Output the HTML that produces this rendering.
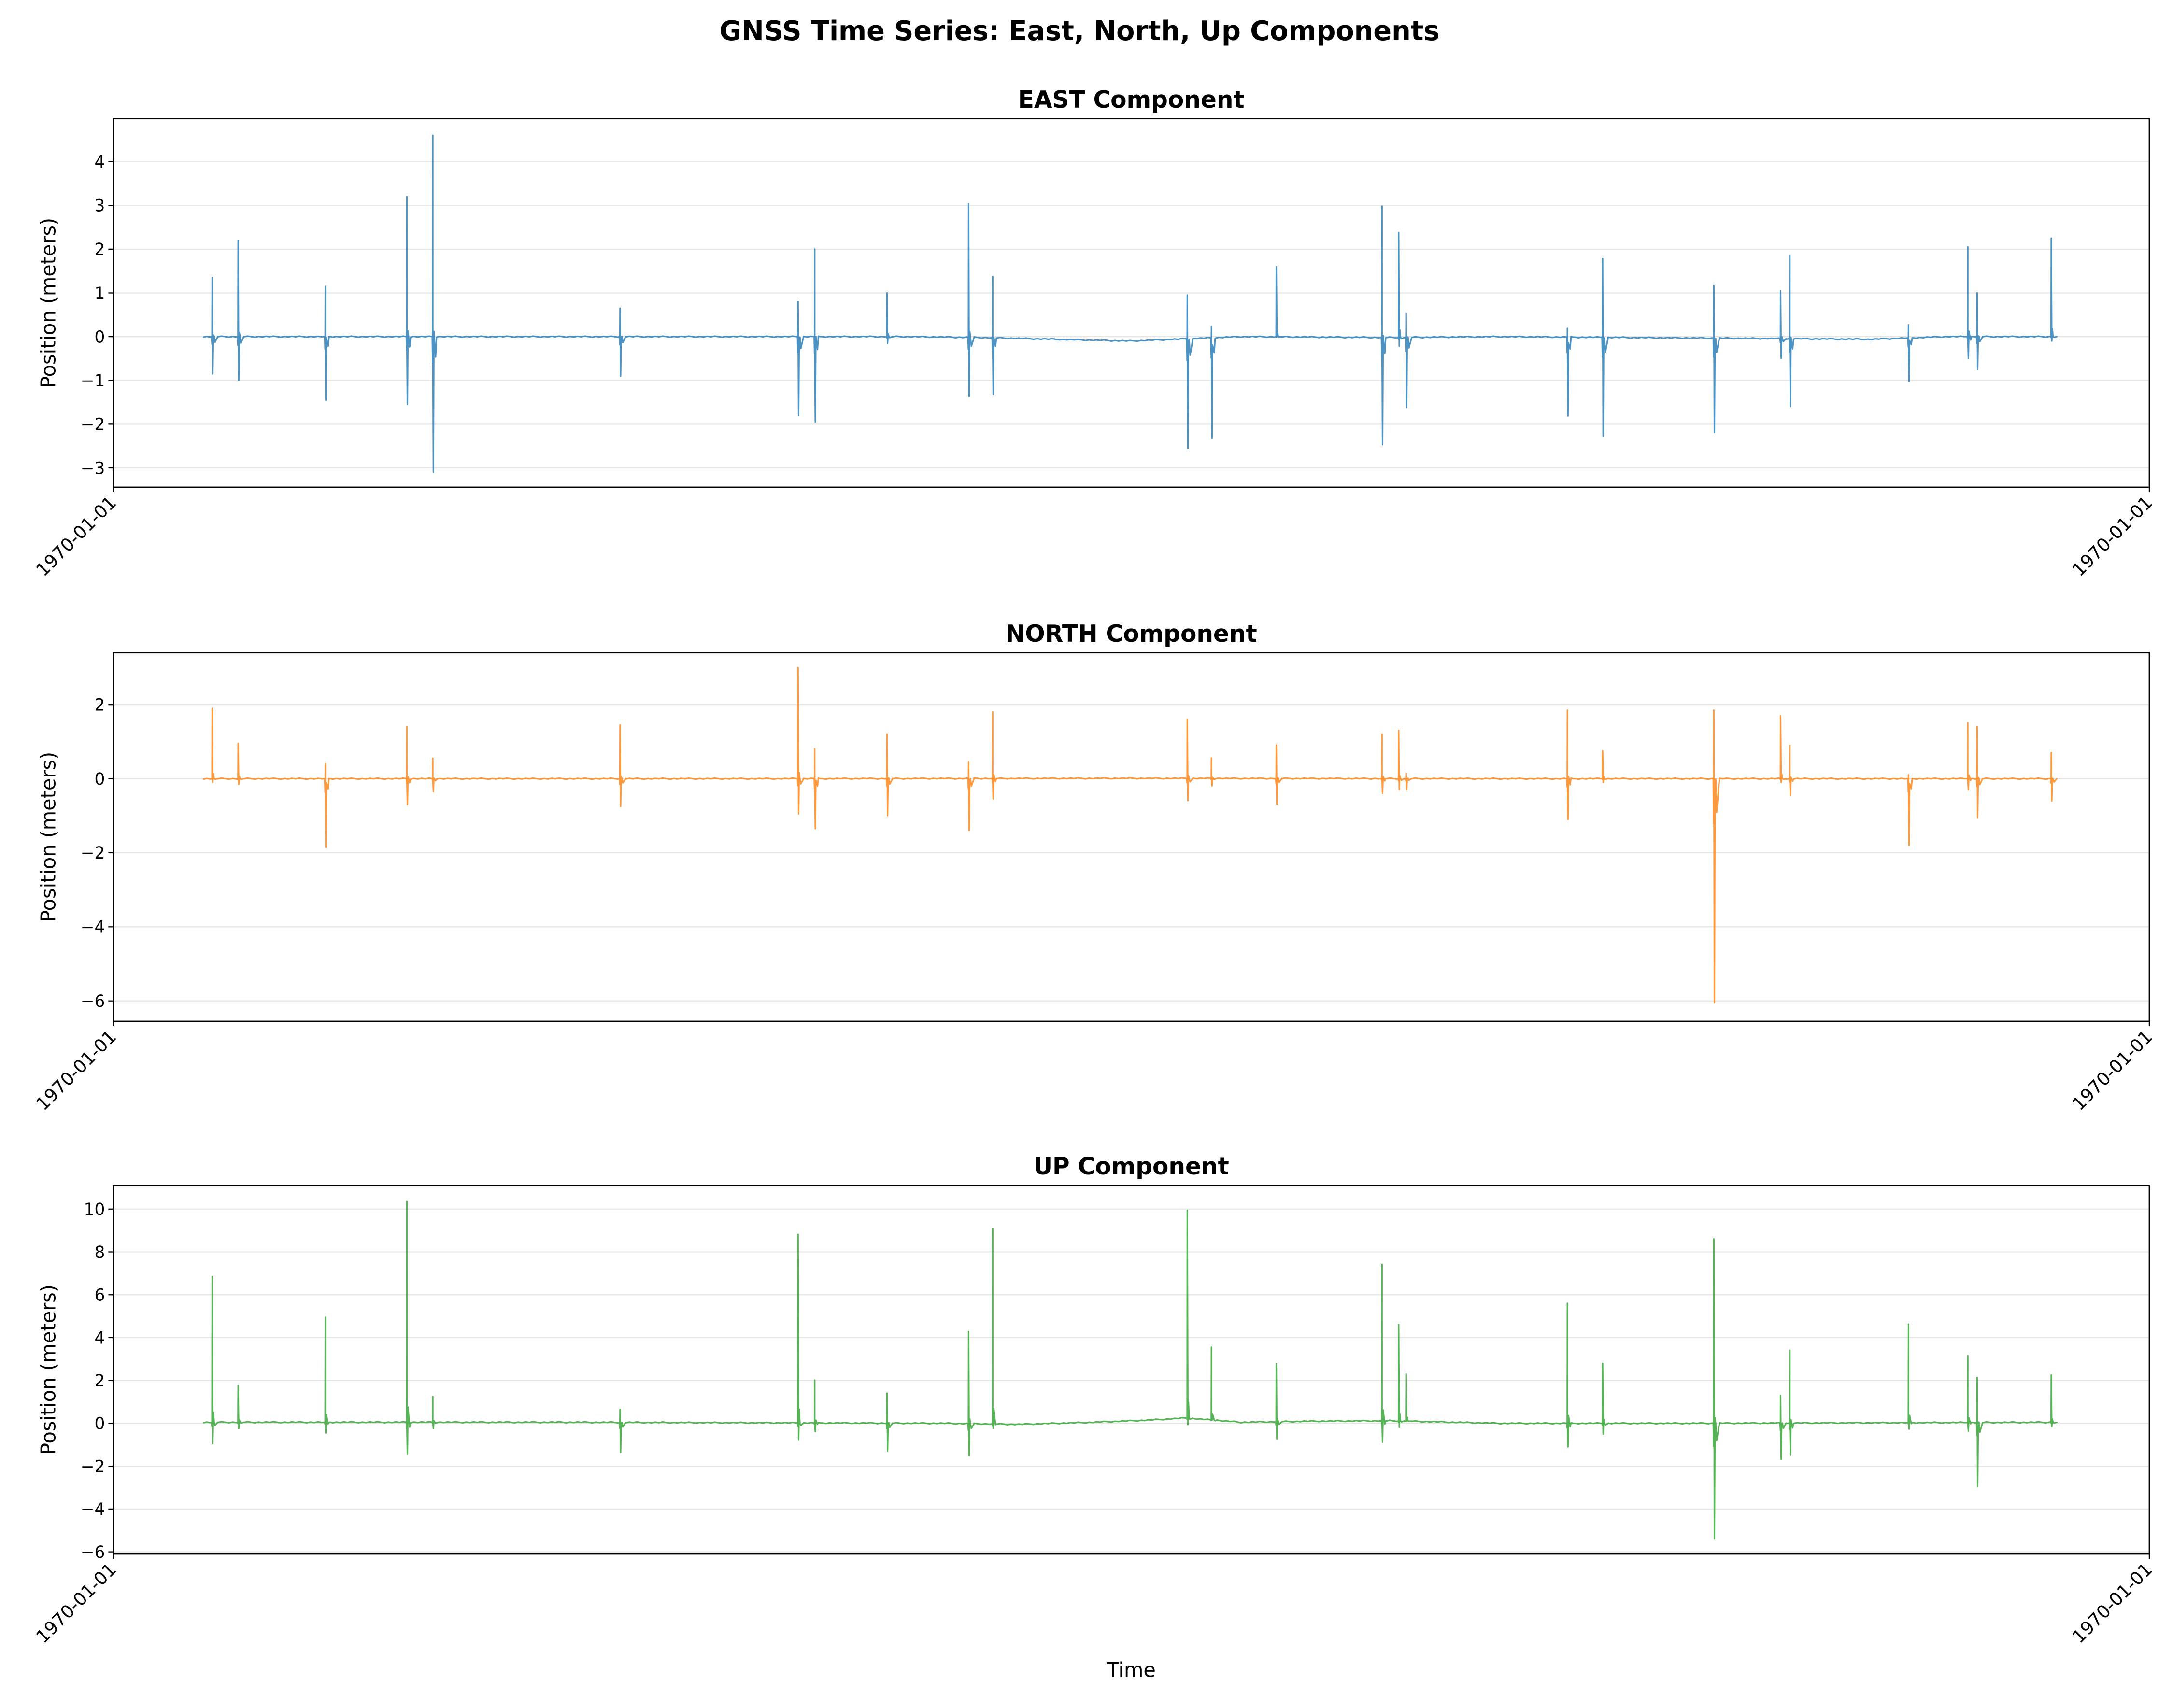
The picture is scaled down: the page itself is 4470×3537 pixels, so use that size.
<!DOCTYPE html>
<html><head><meta charset="utf-8"><style>
html,body{margin:0;padding:0;background:#fff;}
svg{display:block;font-family:"DejaVu Sans","Liberation Sans",sans-serif;}
</style></head><body>
<svg id="fig" width="4470" height="3537" viewBox="0 0 1564 1237.6" xmlns="http://www.w3.org/2000/svg">
<rect width="1564" height="1237.6" fill="#fff"/>
<text x="782" y="29" text-anchor="middle" font-size="19.5" font-weight="bold">GNSS Time Series: East, North, Up Components</text>
<text x="819.5" y="1215" text-anchor="middle" font-size="14.5">Time</text>
</svg>
<script>
// Spike event days (0..1000 day index across series span)
const spikeDays = [5,19,66,110,124,225,321,330,369,413,426,531,544,579,636,645,649,736,755,815,851,856,920,952,957,997];
const eastMax  = [1.35,2.2,1.15,3.2,4.6,0.65,0.8,2.0,1.0,3.05,1.4,1.0,0.25,1.6,3.0,2.4,0.55,0.2,1.8,1.2,1.1,1.9,0.3,2.05,1.0,2.25];
const eastMin  = [-0.85,-1.0,-1.45,-1.55,-3.1,-0.9,-1.8,-1.95,-0.15,-1.35,-1.3,-2.5,-2.3,0,-2.45,-0.2,-1.6,-1.8,-2.25,-2.15,-0.45,-1.55,-1.0,-0.5,-0.75,-0.1];
const northMax = [1.9,0.95,0.4,1.4,0.55,1.45,3.0,0.8,1.2,0.45,1.8,1.6,0.55,0.9,1.2,1.3,0.15,1.85,0.75,1.85,1.7,0.9,0.1,1.5,1.4,0.7];
const northMin = [-0.1,-0.15,-1.85,-0.7,-0.35,-0.75,-0.95,-1.35,-1.0,-1.4,-0.55,-0.6,-0.2,-0.7,-0.4,-0.3,-0.3,-1.1,-0.1,-6.05,-0.1,-0.45,-1.8,-0.3,-1.05,-0.6];
const upMax    = [6.8,1.7,4.9,10.3,1.2,0.6,8.8,2.0,1.4,4.3,9.1,9.7,3.4,2.7,7.3,4.5,2.2,5.6,2.8,8.6,1.3,3.4,4.6,3.1,2.1,2.2];
const upMin    = [-1.0,-0.3,-0.5,-1.5,-0.3,-1.4,-0.8,-0.4,-1.3,-1.5,-0.2,-0.3,0,-0.8,-1.0,-0.3,0,-1.1,-0.5,-5.4,-1.7,-1.5,-0.3,-0.4,-3.0,-0.2];
// Baseline knots (day, value)
const eastBaseDays = [0,150,300,380,420,460,500,530,560,640,700,800,900,940,1000];
const eastBaseVals = [0,0,0,0,-0.02,-0.06,-0.1,-0.05,0,-0.02,0,-0.03,-0.06,0,0];
const northBaseDays = [0,300,500,700,1000];
const northBaseVals = [0,0,0.01,0,0];
const upBaseDays = [0,200,400,440,480,510,530,560,600,640,700,800,1000];
const upBaseVals = [0.05,0.05,0,-0.05,0.05,0.15,0.25,0.05,0.1,0.12,0,0,0.05];
// Tick labels
const eastTicks = [-3,-2,-1,0,1,2,3,4];
const northTicks = [-6,-4,-2,0,2];
const upTicks = [-6,-4,-2,0,2,4,6,8,10];

const NS="http://www.w3.org/2000/svg";
const svg=document.getElementById('fig');
function mk(tag,attrs,parent){const e=document.createElementNS(NS,tag);for(const k in attrs)e.setAttribute(k,attrs[k]);(parent||svg).appendChild(e);return e;}
const AX_L=82, AX_R=1557;
const xScale=d=>147+d*(1490-147)/1000;
function interp(days,vals,d){for(let i=0;i<days.length-1;i++){if(d>=days[i]&&d<=days[i+1]){const f=(d-days[i])/(days[i+1]-days[i]);return vals[i]+f*(vals[i+1]-vals[i]);}}return vals[vals.length-1];}

function panel(name,title,top,bottom,ymin,ymax,ticks,maxs,mins,bd,bv,color){
  const g=mk('g',{});
  
  
  const y=v=>bottom-(v-ymin)/(ymax-ymin)*(bottom-top);
  ticks.forEach(t=>{
    const gl=mk('line',{x1:AX_L,x2:AX_R,y1:y(t),y2:y(t),stroke:'#e6e6e6','stroke-width':0.8},g);
    
    
    const tk=mk('line',{x1:AX_L-3.5,x2:AX_L,y1:y(t),y2:y(t),stroke:'#000','stroke-width':0.8},g);
    
    
    const tl=mk('text',{x:AX_L-6,y:y(t)+4.3,'text-anchor':'end','font-size':12},g);
    
    
    tl.textContent=(t<0?'\u2212'+(-t):String(t));
  });
  let pts=[];
  let si=0;
  for(let d=0;d<=1000;d+=2){
    while(si<spikeDays.length&&spikeDays[si]<=d){
      const sd=spikeDays[si], b=interp(bd,bv,sd);
      pts.push([sd-0.3,b],[sd-0.1,mins[si]<0?b+mins[si]*0.2:b],[sd,b+maxs[si]],[sd+0.3,b+mins[si]],[sd+0.6,b+(maxs[si]+mins[si])*0.08],[sd+1.5,b+mins[si]*0.15],[sd+3,b]);
      si++;
    }
    const wob=((d*37)%7-3)*0.004*(ymax-ymin)/8;
    pts.push([d,interp(bd,bv,d)+wob]);
  }
  pts.sort((a,b)=>a[0]-b[0]);
  const dstr=pts.map((p,i)=>(i?'L':'M')+xScale(p[0]).toFixed(2)+' '+y(p[1]).toFixed(2)).join(' ');
  const line=mk('path',{d:dstr,fill:'none',stroke:color,'stroke-opacity':0.8,'stroke-width':1.1,'stroke-linejoin':'round'},g);
  
  
  const fr=mk('rect',{x:AX_L,y:top,width:AX_R-AX_L,height:bottom-top,fill:'none',stroke:'#000','stroke-width':0.9},g);
  
  
  [AX_L,AX_R].forEach(x=>{
    const tk=mk('line',{x1:x,x2:x,y1:bottom,y2:bottom+3.5,stroke:'#000','stroke-width':0.8},g);
    
    
    const tl=mk('text',{'text-anchor':'end','font-size':13,transform:'translate('+(x+3)+','+(bottom+12)+') rotate(-45)'},g);
    
    
    tl.textContent='1970-01-01';
  });
  const tt=mk('text',{x:(AX_L+AX_R)/2,y:top-8,'text-anchor':'middle','font-size':17,'font-weight':'bold'},g);
  
  
  tt.textContent=title;
  const yl=mk('text',{'text-anchor':'middle','font-size':14.5,transform:'translate(40,'+((top+bottom)/2)+') rotate(-90)'},g);
  
  
  yl.textContent='Position (meters)';
}
panel('east','EAST Component',86,353,-3.44,4.98,eastTicks,eastMax,eastMin,eastBaseDays,eastBaseVals,'#1f77b4');
panel('north','NORTH Component',473,740,-6.55,3.4,northTicks,northMax,northMin,northBaseDays,northBaseVals,'#ff7f0e');
panel('up','UP Component',859,1126,-6.1,11.1,upTicks,upMax,upMin,upBaseDays,upBaseVals,'#2ca02c');
</script>
</body></html>
